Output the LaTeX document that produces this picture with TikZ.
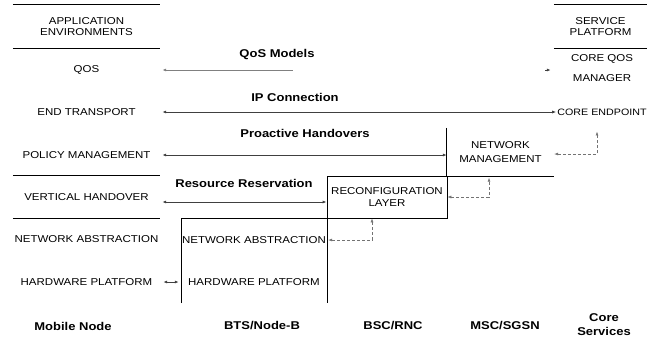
\documentclass[tikz,border=0pt]{standalone}
\usepackage{fontspec}
\setmainfont[FakeStretch=1.15]{Liberation Sans}
\usepackage{tikz}
\usetikzlibrary{arrows.meta, positioning, calc}
\definecolor{linegray}{rgb}{.25,.25,.25}
\definecolor{ctrlgray}{rgb}{.45,.45,.45}

\begin{document}
\begin{tikzpicture}[x=1pt, y=-1pt, >={Latex[length=4pt,width=3pt]},
  every node/.style={inner sep=1pt, align=center, font=\fontsize{10}{11}\selectfont},
  lbl/.style={font=\fontsize{11.3}{14}\selectfont\bfseries},
  col/.style={minimum width=147pt},
  flow/.style={draw=linegray, line width=0.8pt},
  ctrl/.style={draw=ctrlgray, densely dashed, line width=0.6pt, <->},
  sep/.style={line width=1.2pt}]
\useasboundingbox (0,0) rectangle (657,341);

\node[col, minimum height=43pt] (appenv) at (86.5,26.5) {APPLICATION\\ENVIRONMENTS};
\node[col] (qos) at (86.5,70) {QOS};
\node[col] (endtr) at (86.5,112) {END TRANSPORT};
\node[col] (policy) at (86.5,155) {POLICY MANAGEMENT};
\node[col, minimum height=42pt] (verthand) at (86.5,197) {VERTICAL HANDOVER};
\node[col] (mnna) at (86.5,239) {NETWORK ABSTRACTION};
\node[col] (mnhw) at (86.5,282) {HARDWARE PLATFORM};

\node[minimum width=93pt, minimum height=43pt] (svcplat) at (600.5,26.5) {SERVICE\\PLATFORM};
\node[minimum width=102pt] (coreqos) at (602,68) {CORE QOS\\[9pt]MANAGER};
\node[font=\fontsize{9.3}{11}\selectfont] (coreend) at (602,112) {CORE ENDPOINT};

\node[minimum width=107pt, minimum height=48pt] (netmgmt) at (500.5,152) {NETWORK\\[3pt]MANAGEMENT};
\node[draw, line width=0.8pt, minimum width=120pt, minimum height=42pt] (reconf) at (387,197) {RECONFIGURATION\\[1pt]LAYER};
\node[minimum width=145pt, minimum height=84pt] (bts) at (254.5,261) {};
\node (btsna) at (254,240) {NETWORK ABSTRACTION};
\node (btshw) at (254,282) {HARDWARE PLATFORM};

\draw[sep] (appenv.north west) -- (appenv.north east) (appenv.south west) -- (appenv.south east);
\draw[sep] (svcplat.north west) -- (svcplat.north east) (svcplat.south west) -- (svcplat.south east);
\draw[sep] (verthand.north west) -- (verthand.north east) (verthand.south west) -- (verthand.south east);
\draw[line width=0.8pt] (netmgmt.north west) -- (netmgmt.south west) -- (netmgmt.south east);
\draw[line width=0.8pt] (bts.south west) -- (bts.north west) -- (bts.north east) -- (bts.south east);

\node[lbl] (qosmod) at (277,55) {QoS Models};
\node[lbl] (ipconn) at (295,97) {IP Connection};
\node[lbl] (proact) at (305,133) {Proactive Handovers};
\node[lbl] (resres) at (244,183) {Resource Reservation};

\node[lbl] (mobile) at (73,326) {Mobile Node};
\node[lbl] (btsnode) at (262,326) {BTS/Node-B};
\node[lbl] (bscrnc) at (393,326) {BSC/RNC};
\node[lbl] (mscsgsn) at (505,326) {MSC/SGSN};
\node[lbl] (coresvc) at (604,325) {Core\\Services};

\coordinate (qosgap) at (293,70);
\coordinate (qosstub) at (545,70);
\draw[flow, draw=gray, <-, shorten <=2pt] (qos.east) -- (qosgap);
\draw[flow, ->] (qosstub) -- (coreqos.west |- qosstub);
\draw[flow, <->, shorten <=2pt] (endtr.east) -- (coreend.west);
\draw[flow, <->, shorten <=2pt] (policy.east) -- (netmgmt.west |- policy.east);
\draw[flow, <->, shorten <=2pt] ([yshift=-5pt]verthand.east) -- ([yshift=-5pt]reconf.west);
\draw[flow, <->, shorten <=3pt, shorten >=3pt] (mnhw.east) -- (bts.west |- mnhw.east);

\draw[ctrl, shorten >=15pt] ([yshift=-2pt]netmgmt.east) -| ([xshift=-5pt]coreend.south);
\draw[ctrl, shorten >=1.5pt] (reconf.east) -| ([xshift=-11.5pt]netmgmt.south);
\draw[ctrl, shorten >=1pt] ([xshift=-15pt]reconf.south) |- (bts.east |- btsna);
\end{tikzpicture}
\end{document}
